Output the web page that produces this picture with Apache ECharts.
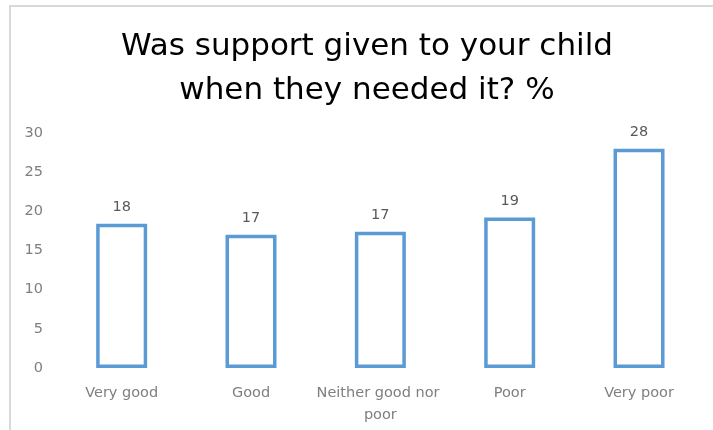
<!DOCTYPE html>
<html><head><meta charset="utf-8">
<script src="https://cdn.jsdelivr.net/npm/echarts@6/dist/echarts.min.js"></script>
<style>html,body{margin:0;padding:0;background:#fff}#c{width:713px;height:430px}</style>
</head><body><div id="c"></div>
<script>
const categories = ["Very good", "Good", "Neither good nor poor", "Poor", "Very poor"];
const values = [18.4, 17.0, 17.4, 19.2, 28.0];
const yTicks = [0, 5, 10, 15, 20, 25, 30];
const titleText = "Was support given to your child\nwhen they needed it? %";

const chart = echarts.init(document.getElementById('c'), null, {renderer: 'canvas'});
const FONT = '"DejaVu Sans", sans-serif';
chart.setOption({
  animation: false,
  graphic: [{
    type: 'rect', shape: {x: 10, y: 6, width: 760, height: 480},
    style: {fill: 'none', stroke: '#d9d9d9', lineWidth: 2}, silent: true
  }, {
    type: 'text', x: 367, y: 25, silent: true,
    style: {text: titleText, align: 'center', verticalAlign: 'top', fontFamily: FONT, fontSize: 31,
      fontWeight: 'normal', fill: '#000', lineHeight: 44}
  }],
  grid: {left: 57, right: 9, top: 133, bottom: 62, containLabel: false},
  xAxis: {
    type: 'category', data: categories,
    axisLine: {show: false}, axisTick: {show: false},
    axisLabel: {fontFamily: FONT, fontSize: 14.5, color: '#7f7f7f', margin: 14, lineHeight: 22,
      width: 142, overflow: 'break', interval: 0}
  },
  yAxis: {
    type: 'value', min: yTicks[0], max: yTicks[yTicks.length - 1], interval: 5,
    axisLine: {show: false}, axisTick: {show: false}, splitLine: {show: false},
    axisLabel: {fontFamily: FONT, fontSize: 14.5, color: '#7f7f7f', margin: 14}
  },
  series: [{
    type: 'bar', data: values, barWidth: 51,
    itemStyle: {color: '#ffffff', borderColor: '#5b9bd5', borderWidth: 3.5},
    label: {show: true, position: 'top', distance: 9, fontFamily: FONT, fontSize: 14.5, color: '#595959',
      formatter: p => Math.round(p.value)}
  }]
});
</script></body></html>
